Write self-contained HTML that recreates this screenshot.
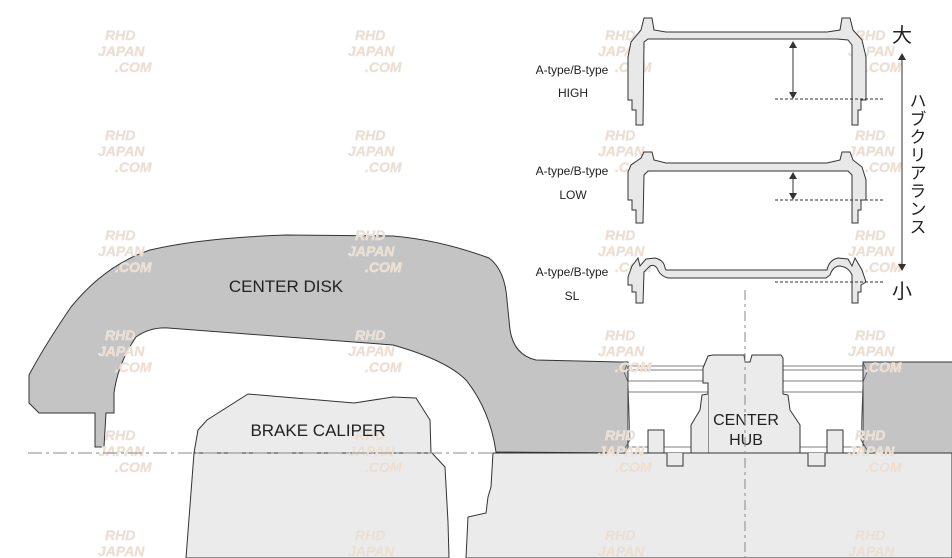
<!DOCTYPE html>
<html><head><meta charset="utf-8"><style>
html,body{margin:0;padding:0;background:#fff;}
svg{display:block;}
text{font-family:"Liberation Sans","Noto Sans CJK JP",sans-serif;fill:#222;}
.wm text{fill:#f3dcc6;font-weight:bold;font-style:italic;font-size:14px;stroke:#e6e6e6;stroke-width:0.5;}
</style></head><body>
<svg width="952" height="558" viewBox="0 0 952 558" xmlns="http://www.w3.org/2000/svg">
<!-- bottom light blocks -->
<path d="M194,453 L432,453 L445,467 L448,522 L449,558 L186,558 Z" fill="#ebebeb" stroke="#333" stroke-width="1"/>
<path d="M493,453 L952,453 L952,558 L466,558 L468,517 L486,513 L488,497 L491,487 Z" fill="#ebebeb" stroke="#333" stroke-width="1"/>
<!-- caliper -->
<path d="M194,453 L198,430 L207,420 L248,394 L354,403 L393,397 L416,398 L430,420 L431,453 Z" fill="#ebebeb" stroke="#333" stroke-width="1"/>
<!-- center disk -->
<path d="M29,375 L29,403 L39,413 L95,413 L95,447 L104,447 L106,413 L114,413 L114,393 Q118,363 136,337 Q150,327 168,328 L393,345 Q446,360 466,380 Q490,410 496,452 L628,453 L628,362 L620,362 L536,360 Q514,355 510,330 L507,300 Q505,270 489,258 Q440,240 393,236 L286,235 Q200,238 150,250 Q105,265 71,307 Q45,345 29,375 Z" fill="#c4c4c4" stroke="#333" stroke-width="1"/>
<rect x="863" y="362" width="89" height="91" fill="#c4c4c4"/>
<path d="M952,362 L863,362 L863,453 L952,453" fill="none" stroke="#333"/>
<!-- hub area lines -->
<g stroke="#555" stroke-width="0.8" fill="none">
<line x1="628" y1="366" x2="863" y2="366"/>
<line x1="628" y1="370" x2="863" y2="370"/>
<line x1="628" y1="381" x2="863" y2="381"/>
<line x1="628" y1="392" x2="863" y2="392"/>
<line x1="628" y1="447" x2="863" y2="447"/>
<path d="M628,362 L624,372 L628,382 L630,440 L622,453"/>
<path d="M863,362 L867,372 L863,382 L861,440 L869,453"/>
</g>
<rect x="648" y="430" width="16" height="23" fill="#ebebeb" stroke="#333"/>
<rect x="827" y="430" width="16" height="23" fill="#ebebeb" stroke="#333"/>
<path d="M664,453 L667,453 L667,466 L683,466 L683,453 L691,453" fill="#ebebeb" stroke="#333"/>
<path d="M800,453 L808,453 L808,466 L825,466 L825,453 L827,453" fill="#ebebeb" stroke="#333"/>
<!-- center hub -->
<path d="M708,453 L708,383 L703,383 L703,368 L708,356 L713,355 L744,355 L745,362 L750,362 L752,355 L781,355 L783,358 L783,394 L788,395 L790,410 L800,425 L800,453 Z" fill="#ebebeb" stroke="#333"/>
<path d="M708,453 L691,453 L691,425 L700,410 L702,395 L708,394" fill="#ebebeb" stroke="#333"/>
<!-- watermarks -->
<g class="wm">
<text x="105" y="40">RHD</text><text x="355" y="40">RHD</text><text x="605" y="40">RHD</text><text x="855" y="40">RHD</text>
<text x="105" y="140">RHD</text><text x="355" y="140">RHD</text><text x="605" y="140">RHD</text><text x="855" y="140">RHD</text>
<text x="105" y="240">RHD</text><text x="355" y="240">RHD</text><text x="605" y="240">RHD</text><text x="855" y="240">RHD</text>
<text x="105" y="340">RHD</text><text x="355" y="340">RHD</text><text x="605" y="340">RHD</text><text x="855" y="340">RHD</text>
<text x="105" y="440">RHD</text><text x="355" y="440">RHD</text><text x="605" y="440">RHD</text><text x="855" y="440">RHD</text>
<text x="105" y="540">RHD</text><text x="355" y="540">RHD</text><text x="605" y="540">RHD</text><text x="855" y="540">RHD</text>
<text x="98" y="56">JAPAN</text><text x="348" y="56">JAPAN</text><text x="598" y="56">JAPAN</text><text x="848" y="56">JAPAN</text>
<text x="98" y="156">JAPAN</text><text x="348" y="156">JAPAN</text><text x="598" y="156">JAPAN</text><text x="848" y="156">JAPAN</text>
<text x="98" y="256">JAPAN</text><text x="348" y="256">JAPAN</text><text x="598" y="256">JAPAN</text><text x="848" y="256">JAPAN</text>
<text x="98" y="356">JAPAN</text><text x="348" y="356">JAPAN</text><text x="598" y="356">JAPAN</text><text x="848" y="356">JAPAN</text>
<text x="98" y="456">JAPAN</text><text x="348" y="456">JAPAN</text><text x="598" y="456">JAPAN</text><text x="848" y="456">JAPAN</text>
<text x="98" y="556">JAPAN</text><text x="348" y="556">JAPAN</text><text x="598" y="556">JAPAN</text><text x="848" y="556">JAPAN</text>
<text x="115" y="72">.COM</text><text x="365" y="72">.COM</text><text x="615" y="72">.COM</text><text x="865" y="72">.COM</text>
<text x="115" y="172">.COM</text><text x="365" y="172">.COM</text><text x="615" y="172">.COM</text><text x="865" y="172">.COM</text>
<text x="115" y="272">.COM</text><text x="365" y="272">.COM</text><text x="615" y="272">.COM</text><text x="865" y="272">.COM</text>
<text x="115" y="372">.COM</text><text x="365" y="372">.COM</text><text x="615" y="372">.COM</text><text x="865" y="372">.COM</text>
<text x="115" y="472">.COM</text><text x="365" y="472">.COM</text><text x="615" y="472">.COM</text><text x="865" y="472">.COM</text>
</g>
<text x="746" y="425" font-size="16" text-anchor="middle">CENTER</text>
<text x="746" y="445" font-size="16" text-anchor="middle">HUB</text>
<line x1="28" y1="453" x2="496" y2="453" stroke="#888" stroke-dasharray="14,4,3,4"/>
<line x1="745" y1="290" x2="745" y2="558" stroke="#888" stroke-dasharray="10,4,3,4"/>
<text x="286" y="292" font-size="17" text-anchor="middle">CENTER DISK</text>
<text x="318" y="436" font-size="17" text-anchor="middle">BRAKE CALIPER</text>
<!-- profiles -->
<g fill="#e8e8e8" stroke="#333" stroke-width="1">
<path d="M636,125 L636,110 L632,110 L632,100 L628,100 L628,57 L631,42 L641,30 L644,18 L652,18 L654,30 L666,32 L827,32 L840,30 L842,18 L850,18 L853,30 L862,40 L866,57 L866,100 L861,100 L861,110 L858,110 L858,125 L852,125 L852,45 L848,40 L837,39 L648,39 L644,42 L643,125 Z"/>
<path d="M636,223 L636,210 L632,210 L632,200 L628,200 L628,172 L631,165 L641,158 L644,152 L652,152 L654,160 L666,163 L827,163 L840,160 L842,152 L850,152 L853,160 L862,167 L866,180 L866,200 L861,200 L861,210 L858,210 L858,223 L852,223 L852,175 L848,171 L837,171 L648,171 L644,175 L643,223 Z"/>
<path d="M636,303 L636,292 L632,292 L632,285 L628,285 L628,277 L632,266 L638,258 L640,266 L646,259 L655,258 Q664,260 665,268 L666,270 L827,270 Q829,260 838,258 L848,259 L852,266 L855,258 L862,270 L866,282 L861,285 L861,292 L858,292 L858,303 L852,303 L852,275 Q848,266 838,266 Q832,268 830,275 L826,278 L668,278 Q660,276 657,268 Q654,264 650,266 L644,272 L643,303 Z"/>
</g>
<g stroke="#333" stroke-width="1" fill="none">
<line x1="775" y1="99" x2="885" y2="99" stroke-dasharray="3,2"/>
<line x1="775" y1="200" x2="885" y2="200" stroke-dasharray="3,2"/>
<line x1="775" y1="282" x2="885" y2="282" stroke-dasharray="3,2"/>
<line x1="793" y1="46" x2="793" y2="94"/>
<line x1="793" y1="177" x2="793" y2="195"/>
<line x1="902" y1="58" x2="902" y2="266"/>
</g>
<g fill="#333">
<path d="M789,48 L797,48 L793,41 Z"/><path d="M789,92 L797,92 L793,99 Z"/>
<path d="M789,179 L797,179 L793,172 Z"/><path d="M789,193 L797,193 L793,200 Z"/>
<path d="M898,60 L906,60 L902,53 Z"/><path d="M898,264 L906,264 L902,271 Z"/>
</g>
<g font-size="12" text-anchor="middle">
<text x="572" y="74">A-type/B-type</text><text x="573" y="97">HIGH</text>
<text x="572" y="175">A-type/B-type</text><text x="573" y="199">LOW</text>
<text x="572" y="276">A-type/B-type</text><text x="572" y="300">SL</text>
</g>
<text x="902" y="42" font-size="20" text-anchor="middle">大</text>
<text x="902" y="298" font-size="20" text-anchor="middle">小</text>
<text x="916" y="92" font-size="17" style="writing-mode:vertical-rl" letter-spacing="1">ハブクリアランス</text>
</svg>
</body></html>
